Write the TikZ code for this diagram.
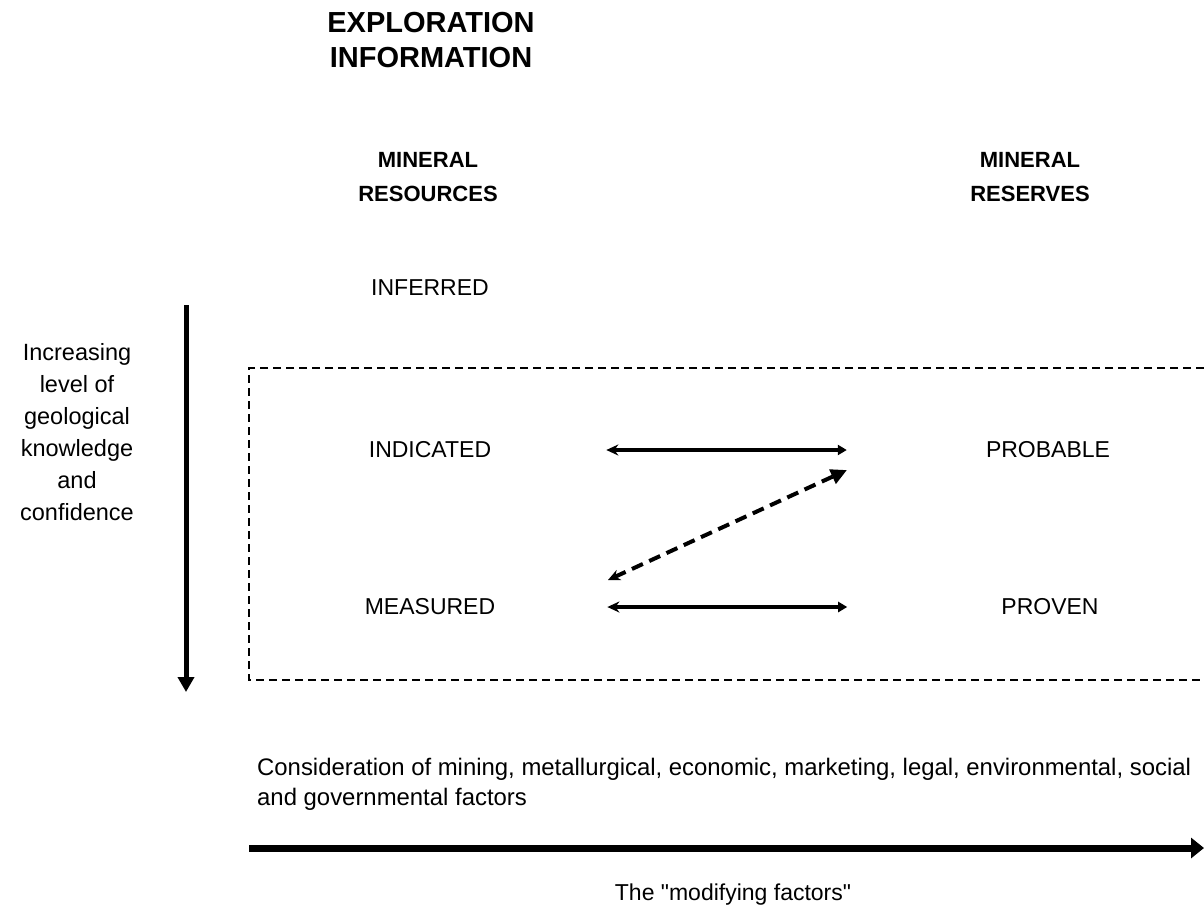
\documentclass[tikz,border=0pt]{standalone}
\usepackage{fontspec}
\setmainfont{Liberation Sans}
\usetikzlibrary{arrows.meta}

\begin{document}
\begin{tikzpicture}[x=1pt,y=-1pt,
    every node/.style={inner sep=0pt,font=\fontsize{23}{31}\selectfont},
    head/.style={align=center,font=\fontsize{22}{34}\selectfont\bfseries},
    pair/.style={line width=4pt,{Stealth[length=12pt,width=11pt]}-{Triangle[length=9pt,width=10pt]}},
    link/.style={line width=4pt,dash pattern=on 12pt off 7pt,{Stealth[length=12pt,width=11pt]}-{Triangle[length=16pt,width=15pt]}},
    frame/.style={line width=1.6pt,dash pattern=on 8pt off 5pt}]
      \useasboundingbox (0,0) rectangle (1204,906);
      \node[align=center,font=\fontsize{29}{35}\selectfont\bfseries] (title) at (431,40) {EXPLORATION\\INFORMATION};
      \node[head] (resources) at (428,177) {MINERAL\\RESOURCES};
      \node[head] (reserves) at (1030,177) {MINERAL\\RESERVES};
      \node (inferred) at (430,288) {INFERRED};
      \node (indicated) at (430,450) {INDICATED};
      \node (probable) at (1048,450) {PROBABLE};
      \node (measured) at (430,607) {MEASURED};
      \node (proven) at (1050,607) {PROVEN};
      \node[align=center,font=\fontsize{23.5}{32}\selectfont] (knowledge) at (77,432)
        {Increasing\\level of\\geological\\knowledge\\and\\confidence};
      \node[align=left,anchor=west,font=\fontsize{23.9}{30}\selectfont] (consider) at (257,784)
        {Consideration of mining, metallurgical, economic, marketing, legal, environmental, social\\and governmental factors};
      \node (modifying) at (733,895) {The \textquotedbl modifying factors\textquotedbl};
      %the dashed box runs off the right edge
      \draw[frame] (1204,368) -- (249,368) -- (249,680) -- (1204,680);
      \draw[pair] (indicated) -- (probable)
        [shorten <=115pt, shorten >=139pt];
      \draw[pair,shorten <=112pt,shorten >=154pt] (measured) -- (proven);
      \coordinate (lo) at (608,580);
      \coordinate (hi) at (847,470);
      \draw[link] (lo) -- (hi);
      \coordinate (top) at (186,305);
      \coordinate (bot) at (186,692);
      \draw[line width=5pt,-{Triangle[length=15pt,width=16pt]}] (top) -- (bot);
      \coordinate (start) at (249,848);
      \coordinate (end) at (1204,848);
      \draw[line width=7pt,-{Triangle[length=13pt,width=20pt]}] (start) -- (end);
      \end{tikzpicture}
\end{document}
